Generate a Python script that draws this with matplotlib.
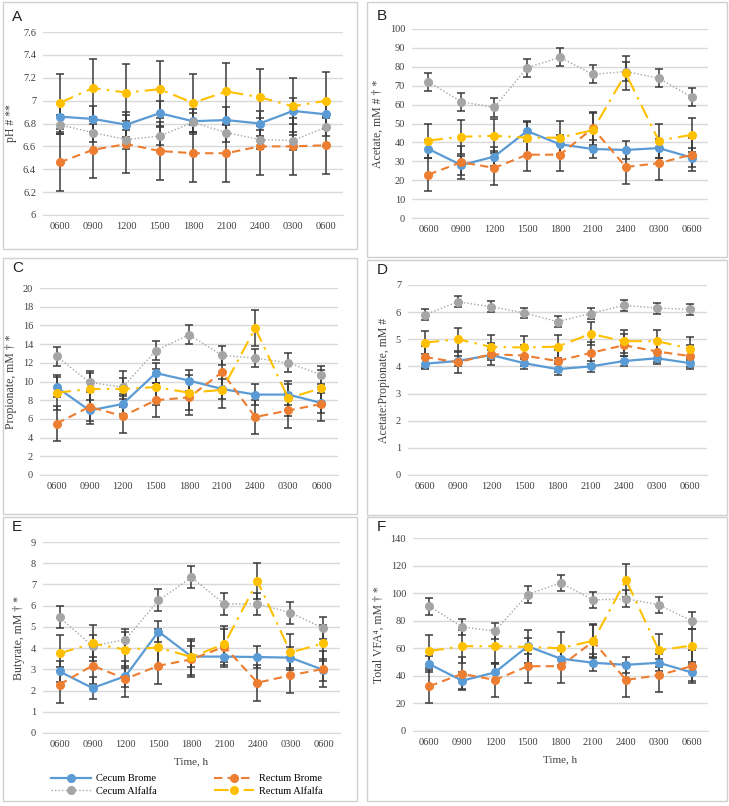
import matplotlib

matplotlib.use("Agg")
import matplotlib.pyplot as plt
from matplotlib.lines import Line2D
from matplotlib.patches import Rectangle
from matplotlib.ticker import FuncFormatter

W, H = 729, 806

times = ["0600", "0900", "1200", "1500", "1800", "2100", "2400", "0300", "0600"]
series_names = ["Cecum Brome", "Rectum Brome", "Cecum Alfalfa", "Rectum Alfalfa"]

# pH
ph_cb = [6.86, 6.84, 6.79, 6.89, 6.82, 6.83, 6.80, 6.91, 6.88]
ph_rb = [6.46, 6.57, 6.62, 6.56, 6.54, 6.54, 6.60, 6.60, 6.61]
ph_ca = [6.79, 6.72, 6.66, 6.69, 6.81, 6.72, 6.66, 6.65, 6.77]
ph_ra = [6.98, 7.11, 7.07, 7.10, 6.98, 7.08, 7.03, 6.95, 7.00]
ph_err = [0.11, 0.25, 0.08, 0.25]

# acetate
ace_cb = [36.5, 28, 32.5, 46, 39, 36.5, 36, 37, 32]
ace_rb = [23, 29.5, 26.5, 33.5, 33.5, 47.5, 27, 29, 33.5]
ace_ca = [72, 61.5, 58.5, 79.5, 85, 76, 77.5, 74, 64]
ace_ra = [41, 43, 43.5, 42.5, 42.5, 46.5, 76.5, 41, 44]
ace_err = [5, 8.8, 4.8, 9]

# propionate
pro_cb = [9.4, 6.9, 7.6, 10.9, 10.1, 9.2, 8.6, 8.6, 7.7]
pro_rb = [5.5, 7.3, 6.3, 8.0, 8.3, 11.0, 6.2, 6.9, 7.6]
pro_ca = [12.7, 9.9, 9.4, 13.3, 15.0, 12.8, 12.5, 12.0, 10.7]
pro_ra = [8.8, 9.2, 9.2, 9.4, 8.8, 9.1, 15.7, 8.2, 9.3]
pro_err = [1.1, 1.85, 1.0, 1.9]

# acetate:propionate
ap_cb = [4.1, 4.2, 4.42, 4.12, 3.9, 4.0, 4.2, 4.3, 4.12]
ap_rb = [4.35, 4.15, 4.45, 4.4, 4.2, 4.5, 4.78, 4.55, 4.38]
ap_ca = [5.9, 6.38, 6.2, 5.97, 5.65, 5.95, 6.25, 6.15, 6.1]
ap_ra = [4.88, 5.0, 4.72, 4.7, 4.73, 5.2, 4.93, 4.93, 4.65]
ap_err = [0.2, 0.4, 0.2, 0.42]

# butyrate
but_cb = [2.9, 2.12, 2.68, 4.78, 3.6, 3.6, 3.58, 3.55, 2.97]
but_rb = [2.28, 3.18, 2.55, 3.17, 3.47, 4.07, 2.37, 2.72, 3.02]
but_ca = [5.45, 4.1, 4.4, 6.25, 7.33, 6.08, 6.08, 5.67, 4.93]
but_ra = [3.75, 4.22, 3.93, 4.03, 3.58, 4.2, 7.15, 3.8, 4.22]
but_err = [0.5, 0.85, 0.52, 0.85]

# total VFA
vfa_cb = [48.5, 36.5, 42.5, 61.5, 52.5, 49.5, 48, 49.5, 42.5]
vfa_rb = [32.5, 41.5, 37, 47, 47, 65, 37, 40.5, 47]
vfa_ca = [90.5, 75.5, 72.5, 99, 107.5, 95, 96, 91.5, 80]
vfa_ra = [58, 61.5, 61.5, 61, 60, 65.5, 109.5, 58.5, 62]
vfa_err = [6, 12, 6, 12]

colors = ["#5B9BD5", "#ED7D31", "#A5A5A5", "#FFC000"]
styles = ["-", (0, (4, 2.5)), (0, (1, 1.5)), (0, (7, 3, 1.2, 3))]
widths = [1.6, 1.5, 1.0, 1.5]

serif = "Liberation Serif"


def px_rect(left, top, right, bottom):
    return [left / W, 1 - bottom / H, (right - left) / W, (bottom - top) / H]


fig = plt.figure(figsize=(W / 100, H / 100), dpi=100)
fig.patch.set_facecolor("white")

# panel boxes
boxes = [(3, 2, 357, 249), (367, 2, 727, 257), (3, 258, 357, 514),
         (367, 260, 727, 515), (3, 517, 357, 801), (367, 517, 727, 801)]
for l, t, r, b in boxes:
    fig.patches.append(Rectangle((l / W, 1 - b / H), (r - l) / W, (b - t) / H,
                                 transform=fig.transFigure, fill=False,
                                 edgecolor="#D0D0D0", lw=1))

panels = [
    ("A", (12, 17), px_rect(43, 32, 343, 215), [ph_cb, ph_rb, ph_ca, ph_ra], ph_err,
     (6, 7.6, 0.2), "pH # **"),
    ("B", (377, 16), px_rect(412, 29, 708, 218), [ace_cb, ace_rb, ace_ca, ace_ra], ace_err,
     (0, 100, 10), "Acetate, mM # † *"),
    ("C", (12, 268), px_rect(40, 288, 338, 475), [pro_cb, pro_rb, pro_ca, pro_ra], pro_err,
     (0, 20, 2), "Propionate, mM † *"),
    ("D", (377, 270), px_rect(408, 285, 707, 475), [ap_cb, ap_rb, ap_ca, ap_ra], ap_err,
     (0, 7, 1), "Acetate:Propionate, mM #"),
    ("E", (12, 527), px_rect(43, 542, 340, 733), [but_cb, but_rb, but_ca, but_ra], but_err,
     (0, 9, 1), "Butyrate, mM † *"),
    ("F", (377, 527), px_rect(413, 538, 708, 731), [vfa_cb, vfa_rb, vfa_ca, vfa_ra], vfa_err,
     (0, 140, 20), "Total VFA⁴, mM † *"),
]

x = list(range(len(times)))
for letter, (lx, ly), rect, data, errs, (y0, y1, step), ylabel in panels:
    ax = fig.add_axes(rect)
    for vals, err, c, ls, lw, name in zip(data, errs, colors, styles, widths, series_names):
        ax.errorbar(x, vals, yerr=err, fmt="none", ecolor="#3A3A3A", elinewidth=1.1,
                    capsize=2.6, capthick=1.1, zorder=2)
        ax.plot(x, vals, color=c, ls=ls, lw=lw, marker="o", markersize=5.5,
                markerfacecolor=c, markeredgecolor=c, label=name, zorder=3)
    ax.set_xlim(-0.5, len(times) - 0.5)
    ax.set_ylim(y0, y1)
    n = int(round((y1 - y0) / step))
    ax.set_yticks([y0 + i * step for i in range(n + 1)])
    ax.yaxis.set_major_formatter(FuncFormatter(lambda v, _: f"{v:g}"))
    ax.set_xticks(x)
    ax.set_xticklabels(times)
    ax.grid(axis="y", color="#D9D9D9", lw=1, zorder=0)
    ax.set_axisbelow(True)
    for side in ["top", "right", "left"]:
        ax.spines[side].set_visible(False)
    ax.spines["bottom"].set_color("#D9D9D9")
    ax.tick_params(length=0, labelsize=7.5, labelcolor="#404040", pad=5)
    for lab in ax.get_xticklabels() + ax.get_yticklabels():
        lab.set_fontfamily(serif)
    ax.set_ylabel(ylabel, fontsize=8.5, family=[serif, "DejaVu Sans"], color="#404040",
                  labelpad=4)
    if letter in ("E", "F"):
        ax.set_xlabel("Time, h", fontsize=8, family=serif, color="#404040", labelpad=6)
    fig.text(lx / W, 1 - ly / H, letter, fontsize=11, family="Liberation Sans",
             va="center", ha="left", color="#222222")

handles = [
    Line2D([], [], color=colors[0], ls=styles[0], lw=widths[0], marker="o", markersize=5.5),
    Line2D([], [], color=colors[2], ls=styles[2], lw=widths[2], marker="o", markersize=5.5),
    Line2D([], [], color=colors[1], ls=styles[1], lw=widths[1], marker="o", markersize=5.5),
    Line2D([], [], color=colors[3], ls=styles[3], lw=widths[3], marker="o", markersize=5.5),
]
labels = [series_names[0], series_names[2], series_names[1], series_names[3]]
fig.legend(handles, labels, ncol=2, loc="center", bbox_to_anchor=(187 / W, 1 - 785 / H),
           frameon=False, prop={"family": serif, "size": 7.5}, handlelength=3.8,
           columnspacing=5.5, labelspacing=0.3, handletextpad=0.5)

fig.savefig("out.png", dpi=100, facecolor="white")
